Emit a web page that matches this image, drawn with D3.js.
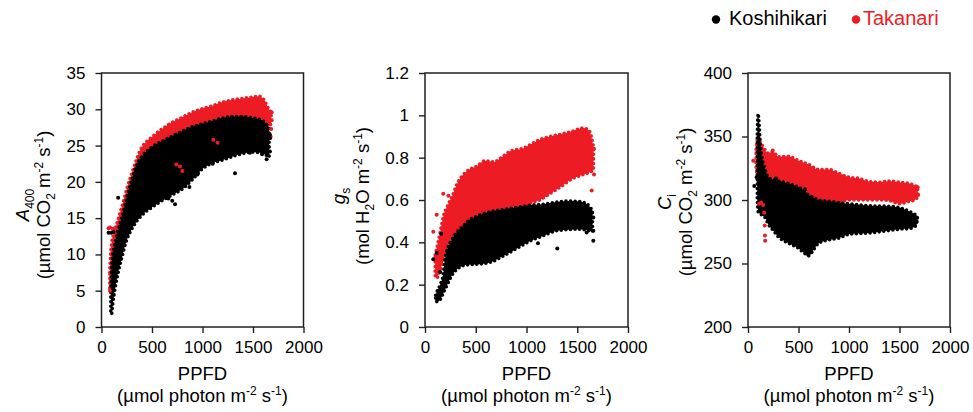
<!DOCTYPE html>
<html>
<head>
<meta charset="utf-8">
<script src="https://d3js.org/d3.v7.min.js"></script>
<style>
body { margin:0; background:#fff; }
text { font-family: "Liberation Sans", Arial, sans-serif; fill:#000; }
</style>
</head>
<body>
<svg id="drawing_region"></svg>
<script>
// tick labels
const ppfdTicks = [0, 500, 1000, 1500, 2000];
const aTicks = [0, 5, 10, 15, 20, 25, 30, 35];
const gsTicks = [0, 0.2, 0.4, 0.6, 0.8, 1, 1.2];
const ciTicks = [200, 250, 300, 350, 400];

const cultivars = ["Koshihikari", "Takanari"];

// dense clouds as [PPFD, lower edge, upper edge]
const aKoshiBand = [[92,1.8,5.0],[100,1.8,8.0],[110,3.0,9.8],[125,4.5,11.0],[150,6.5,12.6],[200,9.5,15.0],
  [250,12.0,17.8],[300,13.5,20.3],[350,14.6,22.4],[400,15.4,23.5],[500,16.5,24.8],[600,17.4,25.6],
  [700,18.2,26.3],[800,19.0,27.0],[900,20.3,27.6],[1000,21.8,28.0],[1100,22.6,28.4],[1200,23.0,28.8],
  [1300,23.5,29.0],[1400,23.9,29.0],[1500,24.1,28.8],[1600,23.9,28.4],[1660,23.4,27.4]];
const aTakaBand = [[82,5.0,7.5],[90,5.5,10.0],[100,6.5,11.5],[125,8.5,13.0],[150,10.5,14.2],[200,12.5,16.5],
  [250,14.5,19.0],[300,16.0,21.2],[350,17.5,23.2],[400,18.5,24.8],[450,19.5,25.6],[500,20.0,26.2],
  [600,21.0,27.3],[700,21.5,28.2],[800,22.0,28.9],[900,23.0,29.6],[1000,24.0,30.1],[1100,25.0,30.5],
  [1200,25.5,31.0],[1300,26.0,31.3],[1400,26.0,31.5],[1500,26.0,31.7],[1560,26.5,31.8],[1610,27.0,31.3],
  [1650,27.5,30.2],[1680,28.0,29.6]];
// single points lying outside the clouds [PPFD, value]
const aKoshiPts = [[70,13.0],[95,13.0],[120,13.1],[165,17.8],[560,17.6],[640,18.8],[661,17.7],[700,17.4],
  [728,16.9],[794,19.5],[830,19.6],[870,19.3],[950,21.0],[1100,22.5],[1322,21.2],[1470,24.0],[1535,24.4],
  [1590,23.8],[1635,23.1],[1635,24.3],[1668,24.2],[1668,26.0],[1668,26.5]];
const aTakaPts = [[84,5.0],[70,13.6],[85,13.7],[110,13.5],[130,13.6],[740,22.4],[777,22.1],[800,21.5],
  [1107,25.8],[1150,25.4],[1685,29.6],[1685,28.5],[1680,27.3],[1675,26.2]];

const gsKoshiBand = [[105,0.12,0.15],[120,0.12,0.17],[150,0.13,0.20],[180,0.16,0.25],[200,0.18,0.33],
  [230,0.21,0.38],[260,0.24,0.41],[310,0.27,0.445],[380,0.29,0.48],[450,0.295,0.51],[520,0.297,0.525],
  [640,0.305,0.545],[770,0.335,0.555],[900,0.37,0.565],[1030,0.405,0.575],[1160,0.43,0.58],
  [1300,0.455,0.59],[1420,0.46,0.595],[1520,0.462,0.593],[1600,0.457,0.58],[1650,0.45,0.55]];
const gsTakaBand = [[100,0.24,0.34],[115,0.23,0.37],[150,0.27,0.45],[180,0.31,0.52],[230,0.38,0.58],
  [270,0.42,0.62],[310,0.44,0.67],[360,0.46,0.71],[440,0.48,0.745],[510,0.50,0.76],[590,0.51,0.785],
  [680,0.52,0.78],[750,0.53,0.80],[840,0.55,0.83],[970,0.57,0.845],[1070,0.59,0.87],[1130,0.60,0.885],
  [1230,0.63,0.90],[1330,0.66,0.91],[1450,0.70,0.925],[1560,0.72,0.94],[1620,0.73,0.925],[1660,0.74,0.85]];
const gsKoshiPts = [[82,0.32],[115,0.35],[150,0.26],[160,0.44],[1113,0.396],[1303,0.371],[1593,0.446],
  [1658,0.407],[1658,0.455],[1658,0.517]];
const gsTakaPts = [[82,0.45],[115,0.53],[180,0.63],[230,0.62],[1642,0.645],[1665,0.72],[1665,0.842],[1620,0.78]];

const ciKoshiBand = [[92,300,352],[100,291,368],[108,290,362],[120,289,346],[140,288,333],[170,286,324],
  [200,281,318],[250,276,316],[300,271,315],[400,266,313],[500,262,310],[560,258,307],[600,256,304],
  [650,261,302],[700,266,300],[800,268.5,299],[900,270,298],[1000,273,297],[1200,274,295.5],
  [1400,276,295],[1500,277,294],[1600,277.5,291],[1670,280,288]];
const ciTakaBand = [[80,325,340],[100,315,350],[120,305,346],[150,297,342],[200,296,337],[250,296,338],
  [300,296,334],[400,296,334.5],[500,296,331],[600,296,328],[700,296,324],[800,297,324],[900,298,321],
  [1000,300,318],[1100,300,317],[1200,300,314.5],[1300,300,314],[1400,299.5,315],[1500,297,314],
  [1600,299,313],[1650,300,311.5],[1680,302,310.5]];
const ciKoshiPts = [[62,311],[86,318],[277,317],[480,310],[564,308.5],[597,256.8],[580,258],[1670,283],[1675,286]];
const ciTakaPts = [[52,331],[110,297],[130,298],[150,296],[160,290],[165,280],[168,272],[170,268],[245,339],
  [1680,310],[1685,304]];

const colors = { Koshihikari: "#000000", Takanari: "#ed1c24" };

const svg = d3.select('#drawing_region')
    .attr('width', 973)
    .attr('height', 412);

class CloudPanel {

    constructor( config, data ) {
        this.config = config;
        this.data = data;
        this.init();
    }

    init() {
        let self = this;
        const c = self.config;

        self.chart = svg.append('g')
            .attr('transform', `translate(${c.left}, ${c.top})`);

        self.inner_width = c.width;
        self.inner_height = c.height;

        self.xscale = d3.scaleLinear()
            .domain([0, 2000])
            .range([0, self.inner_width]);

        self.yscale = d3.scaleLinear()
            .domain(c.ydomain)
            .range([self.inner_height, 0]);

        self.xaxis = d3.axisBottom(self.xscale)
            .tickValues(ppfdTicks)
            .tickFormat(d => d)
            .tickSize(6)
            .tickPadding(8)
            .tickSizeOuter(0);

        self.yaxis = d3.axisLeft(self.yscale)
            .tickValues(c.yticks)
            .tickFormat(d => d)
            .tickSize(6)
            .tickPadding(10)
            .tickSizeOuter(0);
    }

    render() {
        let self = this;
        const c = self.config;

        const area = d3.area()
            .x(d => self.xscale(d[0]))
            .y0(d => self.yscale(d[1]))
            .y1(d => self.yscale(d[2]))
            .curve(d3.curveMonotoneX);

        // clouds: Takanari under Koshihikari
        self.chart.selectAll('path.cloud')
            .data([self.data.Takanari.band, self.data.Koshihikari.band])
            .enter()
            .append('path')
            .attr('class', 'cloud')
            .attr('d', area)
            .attr('fill', (d, i) => i == 0 ? colors.Takanari : colors.Koshihikari)
            .attr('stroke', (d, i) => i == 0 ? colors.Takanari : colors.Koshihikari)
            .attr('stroke-width', 3.6)
            .attr('stroke-linecap', 'round')
            .attr('stroke-dasharray', '0,4.6');

        self.chart.append('g').selectAll('circle')
            .data(self.data.Takanari.pts)
            .enter()
            .append('circle')
            .attr('cx', d => self.xscale(d[0]))
            .attr('cy', d => self.yscale(d[1]))
            .attr('r', 2)
            .attr('fill', colors.Takanari);

        self.chart.append('g').selectAll('circle')
            .data(self.data.Koshihikari.pts)
            .enter()
            .append('circle')
            .attr('cx', d => self.xscale(d[0]))
            .attr('cy', d => self.yscale(d[1]))
            .attr('r', 2)
            .attr('fill', colors.Koshihikari);

        // axes and box
        const xg = self.chart.append('g')
            .attr('transform', `translate(0, ${self.inner_height})`)
            .call(self.xaxis);
        const yg = self.chart.append('g')
            .call(self.yaxis);

        [xg, yg].forEach(g => {
            g.select('.domain').remove();
            g.selectAll('line').attr('stroke', '#231f20').attr('stroke-width', 1.4);
            g.selectAll('text').attr('font-size', '17px').attr('fill', '#000')
                .attr('font-family', '"Liberation Sans", Arial, sans-serif');
        });

        self.chart.append('rect')
            .attr('width', self.inner_width)
            .attr('height', self.inner_height)
            .attr('fill', 'none')
            .attr('stroke', '#231f20')
            .attr('stroke-width', 1.5);

        // x title
        self.chart.append('text')
            .attr('x', self.inner_width / 2)
            .attr('y', 307)
            .attr('text-anchor', 'middle')
            .attr('font-size', '18.5px')
            .text('PPFD');
        self.addRich(self.chart.append('text')
            .attr('x', self.inner_width / 2)
            .attr('y', 329)
            .attr('text-anchor', 'middle')
            .attr('font-size', '18.5px'),
            [['(µmol photon m'], ['-2', 'sup'], [' s'], ['-1', 'sup'], [')']]);

        // y title, two rotated lines
        c.ytitle.forEach((parts, i) => {
            const t = self.chart.append('text')
                .attr('transform', `translate(${-c.yoff[i]}, ${c.ymid - c.top}) rotate(-90)`)
                .attr('text-anchor', 'middle')
                .attr('font-size', '18.5px');
            self.addRich(t, parts);
        });
    }

    addRich( t, parts ) {
        let shift = 0;
        parts.forEach(p => {
            let target = 0;
            if (p[1] == 'sub') target = 5;
            if (p[1] == 'sup') target = -7;
            const s = t.append('tspan')
                .attr('dy', target - shift)
                .text(p[0]);
            if (p[1] == 'sub' || p[1] == 'sup') s.attr('font-size', '12px');
            if (p[1] == 'it') s.attr('font-style', 'italic');
            if (p[1] == 'itsub') { s.attr('font-size', '12px'); }
            shift = target;
        });
    }
}

const unitCO2 = [['(µmol CO'], ['2', 'sub'], [' m'], ['-2', 'sup'], [' s'], ['-1', 'sup'], [')']];

const panels = [
    { left: 101.5, width: 202, ydomain: [0, 35], yticks: aTicks, ymid: 205, yoff: [73, 52],
      ytitle: [[['A', 'it'], ['400', 'sub']], unitCO2],
      data: { Koshihikari: { band: aKoshiBand, pts: aKoshiPts }, Takanari: { band: aTakaBand, pts: aTakaPts } } },
    { left: 425, width: 203, ydomain: [0, 1.2], yticks: gsTicks, ymid: 196, yoff: [80, 56],
      ytitle: [[['g', 'it'], ['s', 'sub']],
               [['(mol H'], ['2', 'sub'], ['O m'], ['-2', 'sup'], [' s'], ['-1', 'sup'], [')']]],
      data: { Koshihikari: { band: gsKoshiBand, pts: gsKoshiPts }, Takanari: { band: gsTakaBand, pts: gsTakaPts } } },
    { left: 748, width: 202, ydomain: [200, 400], yticks: ciTicks, ymid: 202, yoff: [77, 56],
      ytitle: [[['C', 'it'], ['i', 'sub']], unitCO2],
      data: { Koshihikari: { band: ciKoshiBand, pts: ciKoshiPts }, Takanari: { band: ciTakaBand, pts: ciTakaPts } } }
];

panels.forEach(p => {
    const panel = new CloudPanel({
        left: p.left, top: 73, width: p.width, height: 254,
        ydomain: p.ydomain, yticks: p.yticks, ytitle: p.ytitle, yoff: p.yoff, ymid: p.ymid
    }, p.data);
    panel.render();
});

// legend
const legendX = [716, 856];
const legendTextX = [729, 863];
const legend = svg.append('g');
cultivars.forEach((name, i) => {
    legend.append('circle')
        .attr('cx', legendX[i])
        .attr('cy', 19.5)
        .attr('r', 4.2)
        .attr('fill', colors[name]);
    legend.append('text')
        .attr('x', legendTextX[i])
        .attr('y', 25)
        .attr('font-size', '20px')
        .style('fill', colors[name])
        .text(name);
});
</script>
</body>
</html>
